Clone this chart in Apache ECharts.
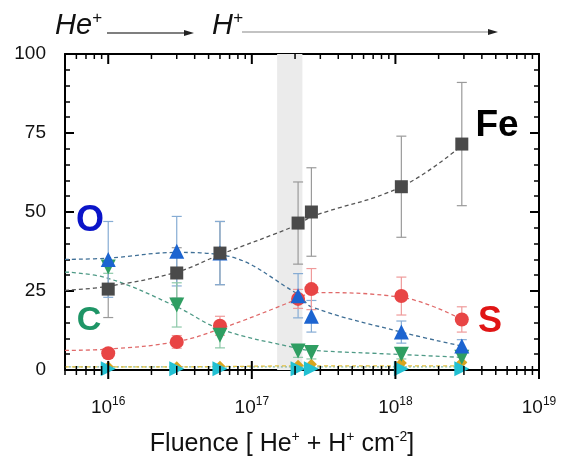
<!DOCTYPE html>
<html><head><meta charset="utf-8">
<script src="https://cdn.jsdelivr.net/npm/echarts@6/dist/echarts.min.js"></script>
<style>html,body{margin:0;padding:0;background:#fff}#c{width:565px;height:466px}</style>
</head><body><div id="c"></div>
<script>
// ---- data ----
const fluence = [1e16, 3e16, 6e16, 2.1e17, 2.6e17, 1.1e18, 2.9e18];
const feVals = [25.6, 30.7, 37, 46.5, 50, 58, 71.5];
const feErr  = [9, 8, 10, 13, 14, 16, 19.5];
const oVals  = [35, 37.6, 37, 23.5, 17, 12, 7.6];
const oErr   = [12, 11, 10, 7, 5, 3.5, 2];
const cVals  = [32.6, 20.6, 11, 6, 5.5, 5, 4];
const cErr   = [2, 7, 4, 2, 2, 1.5, 1.5];
const sVals  = [5.3, 8.9, 14, 22.5, 25.6, 23.4, 16];
const sErr   = [1, 2, 3, 3, 6.5, 6, 4];
const yelVals = [1.0, 1.0, 1.2, 1.5, 1.8, 2.2, 2.4];
const cyanVals = [0.4, 0.4, 0.4, 0.4, 0.4, 0.4, 0.4];
// fitted guide curves
const fitX   = [5e15, 1e16, 3e16, 6e16, 2.1e17, 2.6e17, 1.1e18, 2.9e18];
const feFit  = [25.2, 26.5, 31, 36.5, 46, 48.5, 58, 71];
const oFit   = [35, 35.4, 37.2, 36.5, 24, 20, 12, 7.6];
const cFit   = [31, 29, 20, 13, 6.8, 6.2, 4.9, 4];
const sFit   = [6.2, 6.6, 9, 13, 22.5, 24.5, 23, 16];
const yelFit = [1.0, 1.0, 1.0, 1.1, 1.3, 1.3, 1.3, 1.3];
const cyanFit= [1.0, 1.0, 1.0, 1.0, 1.0, 1.0, 1.0, 1.0];
const shadeRange = [1.5e17, 2.25e17];
const yTicks = [0, 25, 50, 75, 100];
const xMin = 5e15, xMax = 1e19;

// tick positions (2..9 x 10^n) for log axis ticks
const xTicks = [];
for (let e = 15; e <= 18; e++) {
  for (let m = 1; m <= 9; m++) {
    const v = m * Math.pow(10, e);
    if (v >= xMin && v <= xMax) xTicks.push([v, m === 1 ? 1 : 0]);
  }
}
xTicks.push([xMax, 1]);

const zip = (xs, ys) => xs.map((x, i) => [x, ys[i]]);
const zip3 = (xs, ys, es) => xs.map((x, i) => [x, ys[i], es[i]]);

function errSeries(vals, errs, color) {
  return {
    type: 'custom', z: 3, silent: true,
    data: zip3(fluence, vals, errs),
    renderItem: function (params, api) {
      const x = api.value(0), y = api.value(1), e = api.value(2);
      const top = api.coord([x, y + e]);
      const bot = api.coord([x, y - e]);
      const w = 5;
      const st = { stroke: color, lineWidth: 1.2 };
      return { type: 'group', children: [
        { type: 'line', shape: { x1: top[0], y1: top[1], x2: bot[0], y2: bot[1] }, style: st },
        { type: 'line', shape: { x1: top[0] - w, y1: top[1], x2: top[0] + w, y2: top[1] }, style: st },
        { type: 'line', shape: { x1: bot[0] - w, y1: bot[1], x2: bot[0] + w, y2: bot[1] }, style: st }
      ]};
    }
  };
}
function fitSeries(vals, color, type) {
  return {
    type: 'line', data: zip(fitX, vals), smooth: 0.4, symbol: 'none', z: 2, silent: true,
    lineStyle: { color: color, width: 1.3, type: type || [4, 3] }
  };
}
function scatter(vals, symbol, size, color, rotate, z) {
  return {
    type: 'scatter', data: zip(fluence, vals), symbol: symbol, symbolSize: size,
    symbolRotate: rotate || 0, itemStyle: { color: color, opacity: 1 }, z: z || 5
  };
}

const chart = echarts.init(document.getElementById('c'));
const lbl = { fontFamily: 'Liberation Sans, Arial, sans-serif', color: '#111' };
chart.setOption({
  animation: false,
  grid: { left: 65, right: 26, top: 54, bottom: 96 },
  xAxis: [
    { type: 'log', min: xMin, max: xMax, logBase: 10, position: 'bottom',
      axisLine: { show: true, onZero: false, lineStyle: { color: '#000', width: 2 } },
      axisTick: { show: false }, splitLine: { show: false },
      axisLabel: {
        margin: 26, ...lbl, fontSize: 19,
        formatter: function (v) {
          const e = Math.round(Math.log10(v));
          if (Math.abs(v - Math.pow(10, e)) / Math.pow(10, e) > 1e-6) return '';
          return '10{s|' + e + '}';
        },
        rich: { s: { fontSize: 12, verticalAlign: 'top', padding: [0, 0, 12, 0], fontFamily: 'Liberation Sans, Arial, sans-serif', color: '#111' } }
      }
    },
    { type: 'log', min: xMin, max: xMax, logBase: 10, position: 'top',
      axisLine: { show: true, onZero: false, lineStyle: { color: '#000', width: 2 } },
      axisTick: { show: false }, axisLabel: { show: false }, splitLine: { show: false } }
  ],
  yAxis: [
    { type: 'value', min: 0, max: 100, interval: 25, position: 'left',
      axisLine: { show: true, onZero: false, lineStyle: { color: '#000', width: 2 } },
      axisTick: { show: true, inside: true, length: 9, lineStyle: { color: '#000', width: 2 } },
      minorTick: { show: true, splitNumber: 5, length: 5, lineStyle: { color: '#000', width: 1.5 } },
      splitLine: { show: false },
      axisLabel: { margin: 19, ...lbl, fontSize: 19, formatter: v => yTicks.includes(v) ? String(v) : '' } },
    { type: 'value', min: 0, max: 100, interval: 25, position: 'right',
      axisLine: { show: true, onZero: false, lineStyle: { color: '#000', width: 2 } },
      axisTick: { show: true, inside: true, length: 9, lineStyle: { color: '#000', width: 2 } },
      minorTick: { show: true, splitNumber: 5, length: 5, lineStyle: { color: '#000', width: 1.5 } },
      splitLine: { show: false }, axisLabel: { show: false } }
  ],
  series: [
    // shaded band
    { type: 'line', data: [], silent: true,
      markArea: { silent: true, itemStyle: { color: '#ebebeb' },
        data: [[{ xAxis: shadeRange[0] }, { xAxis: shadeRange[1] }]] } },
    // x ticks (bottom crossing, top inside)
    { type: 'custom', z: 10, silent: true, clip: false, data: xTicks,
      renderItem: function (params, api) {
        const x = api.value(0), major = api.value(1);
        const b = api.coord([x, 0]), t = api.coord([x, 100]);
        const st = { stroke: '#000', lineWidth: major ? 2 : 1.5 };
        return { type: 'group', children: [
          { type: 'line', shape: { x1: b[0], y1: b[1] - (major ? 9 : 4), x2: b[0], y2: b[1] + (major ? 9 : 5) }, style: st },
          { type: 'line', shape: { x1: t[0], y1: t[1], x2: t[0], y2: t[1] + (major ? 10 : 5) }, style: st }
        ]};
      } },
    fitSeries(cyanFit, '#7fb7a5', [2, 2]),
    fitSeries(yelFit, '#e2c040', [4, 3]),
    fitSeries(cFit, '#4e9a86'),
    fitSeries(sFit, '#e06a6a'),
    fitSeries(oFit, '#3f6f96'),
    fitSeries(feFit, '#555555'),
    errSeries(feVals, feErr, '#9a9a9a'),
    errSeries(oVals, oErr, '#86acd4'),
    errSeries(cVals, cErr, '#8cc8a8'),
    errSeries(sVals, sErr, '#ef9a9a'),
    scatter(yelVals, 'diamond', 11, '#d9a520', 0, 5),
    scatter(cyanVals, 'triangle', 15, '#22c0d2', -90, 9),
    scatter(sVals, 'circle', 14, '#e84545', 0, 6),
    scatter(cVals, 'triangle', 15, '#2f9e62', 180, 7),
    scatter(oVals, 'triangle', 15, '#1c64d0', 0, 8),
    scatter(feVals, 'rect', 13, '#4a4a4a', 0, 8)
  ],
  graphic: [
    { type: 'text', x: 90, y: 221, style: { text: 'O', fill: '#0a14c8', font: 'bold 36px Liberation Sans, Arial, sans-serif', align: 'center', verticalAlign: 'middle' } },
    { type: 'text', x: 89, y: 321, style: { text: 'C', fill: '#1e9566', font: 'bold 34px Liberation Sans, Arial, sans-serif', align: 'center', verticalAlign: 'middle' } },
    { type: 'text', x: 497, y: 126, style: { text: 'Fe', fill: '#000', font: 'bold 37px Liberation Sans, Arial, sans-serif', align: 'center', verticalAlign: 'middle' } },
    { type: 'text', x: 490, y: 322, style: { text: 'S', fill: '#e01515', font: 'bold 36px Liberation Sans, Arial, sans-serif', align: 'center', verticalAlign: 'middle' } },
    { type: 'text', x: 55, y: 26, style: { text: 'He{s|+}', fill: '#111', font: 'italic 29px Liberation Sans, Arial, sans-serif', verticalAlign: 'middle',
      rich: { s: { font: 'italic 17px Liberation Sans, Arial, sans-serif', verticalAlign: 'top', padding: [0, 0, 16, 0], fill: '#111' } } } },
    { type: 'text', x: 212, y: 26, style: { text: 'H{s|+}', fill: '#111', font: 'italic 29px Liberation Sans, Arial, sans-serif', verticalAlign: 'middle',
      rich: { s: { font: 'italic 17px Liberation Sans, Arial, sans-serif', verticalAlign: 'top', padding: [0, 0, 16, 0], fill: '#111' } } } },
    { type: 'line', shape: { x1: 107, y1: 33, x2: 186, y2: 33 }, style: { stroke: '#555', lineWidth: 1.3 } },
    { type: 'polygon', shape: { points: [[184, 30], [194, 33], [184, 36]] }, style: { fill: '#222' } },
    { type: 'line', shape: { x1: 242, y1: 32, x2: 490, y2: 32 }, style: { stroke: '#888', lineWidth: 1.2 } },
    { type: 'polygon', shape: { points: [[488, 29], [498, 32], [488, 35]] }, style: { fill: '#222' } },
    { type: 'text', x: 282, y: 444, style: { text: 'Fluence [ He{s|+} + H{s|+} cm{s|-2}]', fill: '#111', font: '25px Liberation Sans, Arial, sans-serif', align: 'center', verticalAlign: 'middle',
      rich: { s: { font: '14px Liberation Sans, Arial, sans-serif', verticalAlign: 'top', padding: [0, 0, 13, 0], fill: '#111' } } } }
  ]
});
</script></body></html>
